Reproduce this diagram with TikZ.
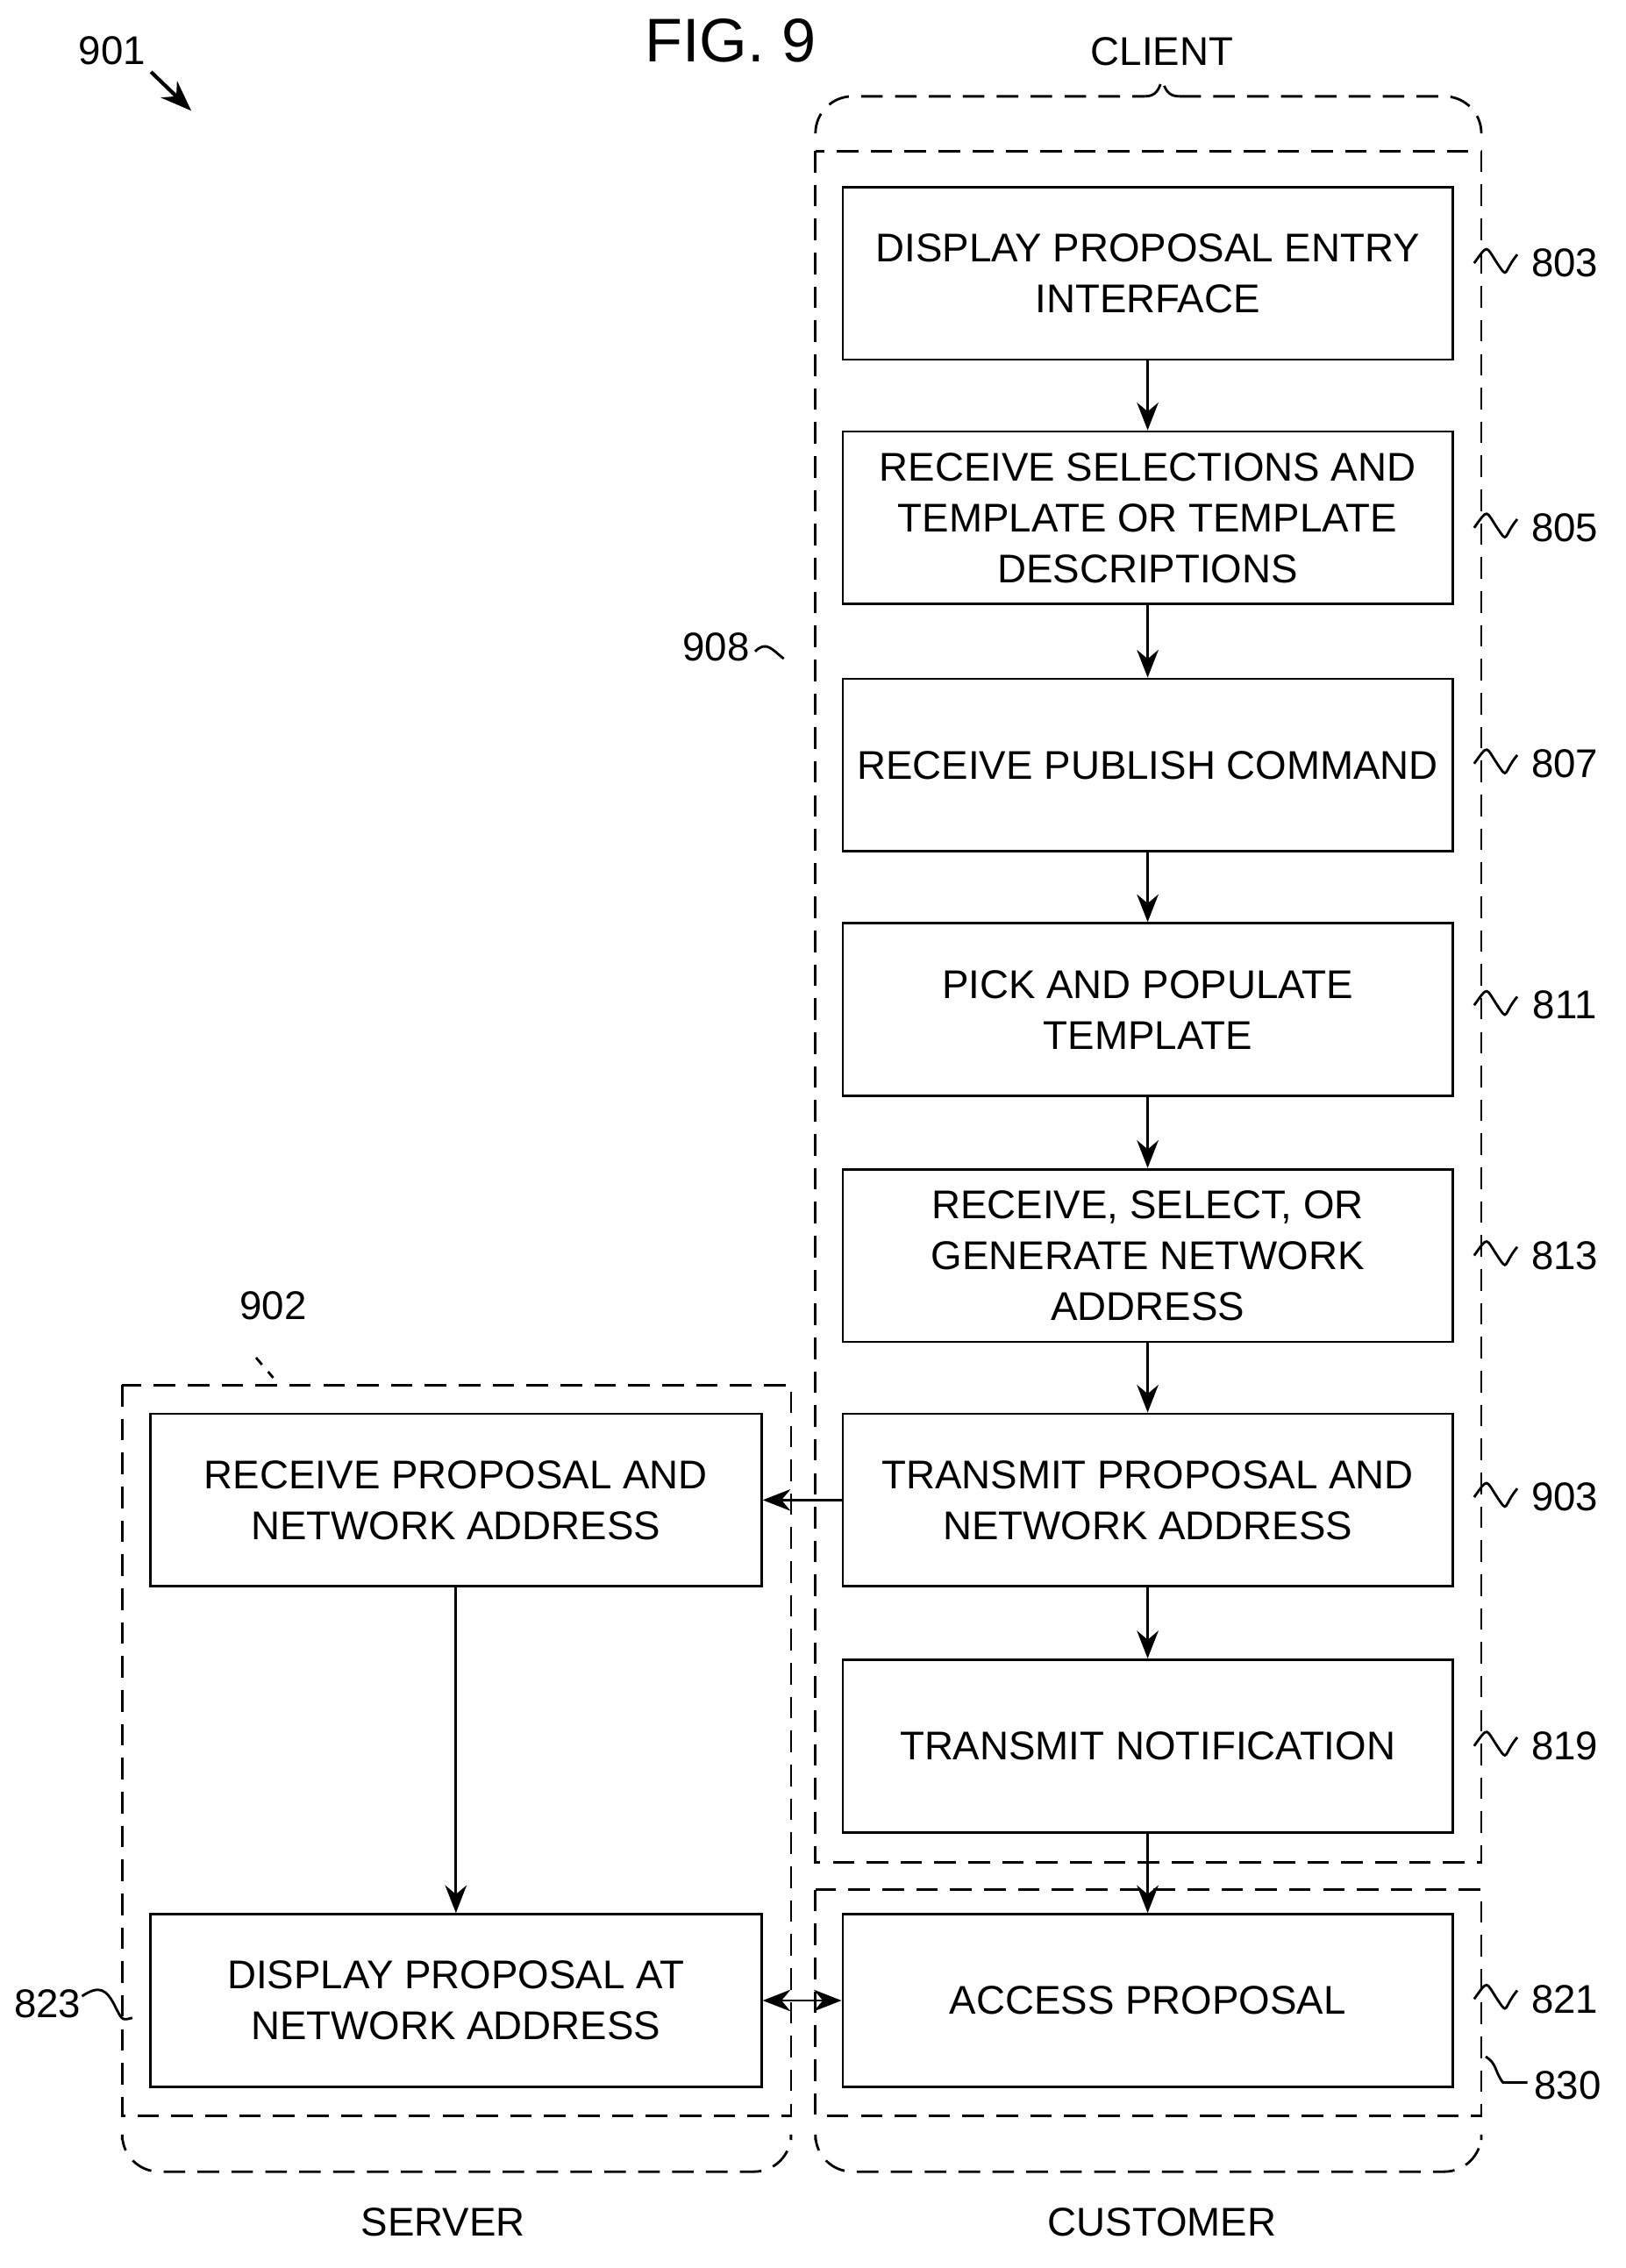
\documentclass[tikz,border=0pt]{standalone}
\usepackage{fontspec}
\setmainfont{Liberation Sans}
\usetikzlibrary{positioning,arrows.meta}
\tikzset{
  flowbox/.style={draw,thick,minimum width=424*0.0164cm,minimum height=120*0.0164cm,align=center,font=\fontsize{13}{16.5}\selectfont,inner sep=0pt},
  group/.style={draw,thick,dash pattern=on 7pt off 4pt},
  flow/.style={thick,-{Stealth[length=9pt,width=7pt]}},
  lbl/.style={font=\fontsize{13}{15}\selectfont}
}
\newcommand{\squig}[1]{\draw[thick] (#1) .. controls +(10,-14) and +(-8,-12) .. +(16,0) .. controls +(8,12) and +(-10,12) .. +(30,-6);}
\begin{document}
\begin{tikzpicture}[x=0.0164cm,y=-0.0164cm]
\useasboundingbox (0,0) rectangle (1130,1577);
% title and reference
\node[font=\fontsize{20}{22}\selectfont] (fig) at (508,28) {FIG. 9};
\node[lbl] (n901) at (78,35) {901};
\coordinate (a901) at (133,77);
\draw[very thick,-{Stealth[length=10pt]}] (105,50) -- (a901);
% client column
\node[flowbox] (s803) at (798,190) {DISPLAY PROPOSAL ENTRY\\INTERFACE};
\node[flowbox] (s805) at (798,360) {RECEIVE SELECTIONS AND\\TEMPLATE OR TEMPLATE\\DESCRIPTIONS};
\node[flowbox] (s807) at (798,532) {RECEIVE PUBLISH COMMAND};
\node[flowbox] (s811) at (798,702) {PICK AND POPULATE\\TEMPLATE};
\node[flowbox] (s813) at (798,873) {RECEIVE, SELECT, OR\\GENERATE NETWORK\\ADDRESS};
\node[flowbox] (s903) at (798,1043) {TRANSMIT PROPOSAL AND\\NETWORK ADDRESS};
\node[flowbox] (s819) at (798,1214) {TRANSMIT NOTIFICATION};
\node[flowbox] (s821) at (798,1391) {ACCESS PROPOSAL};
% server column
\node[flowbox,minimum width=425*0.0164cm] (r902) at (317,1043) {RECEIVE PROPOSAL AND\\NETWORK ADDRESS};
\node[flowbox,minimum width=425*0.0164cm] (d823) at (317,1391) {DISPLAY PROPOSAL AT\\NETWORK ADDRESS};
% connectors
\foreach \a/\b in {s803/s805,s805/s807,s807/s811,s811/s813,s813/s903,s903/s819,s819/s821}
  \draw[flow] (\a) -- (\b);
\draw[flow] (s903) -- (r902);
\draw[flow] (r902) -- (d823);
\draw[thick,{Stealth[length=9pt,width=7pt]}-{Stealth[length=9pt,width=7pt]}] (d823) -- (s821);
% dashed groups
\draw[group] (567,105) rectangle (1030,1295);
\draw[group] (567,1314) rectangle (1030,1471);
\draw[group] (85,963) rectangle (550,1471);
\draw[group,rounded corners=12pt] (567,92) -- (567,67) -- (796,67);
\draw[group,rounded corners=12pt] (820,67) -- (1030,67) -- (1030,92);
\draw[group] (796,67) .. controls (804,67) and (806,62) .. (808,55) .. controls (810,62) and (812,67) .. (820,67);
\draw[group,rounded corners=12pt] (85,1488) -- (85,1510) -- (550,1510) -- (550,1488);
\draw[group,rounded corners=12pt] (567,1488) -- (567,1510) -- (1030,1510) -- (1030,1488);
\draw[thick,dashed] (178,944) -- (190,958);
% group labels
\node[lbl] (tclient) at (808,36) {CLIENT};
\node[lbl] (tserver) at (308,1545) {SERVER};
\node[lbl] (tcust) at (808,1545) {CUSTOMER};
\node[lbl] (t902) at (190,908) {902};
\node[lbl] (t908) at (498,450) {908};
\node[lbl] (t830) at (1090,1450) {830};
\node[lbl] (t823) at (33,1393) {823};
% reference numbers
\foreach \n/\y in {803/183,805/367,807/531,811/699,813/873,903/1041,819/1214,821/1390}{
  \node[lbl] (t\n) at (1088,\y) {\n};
  \squig{1025,\y}
}
\draw[thick] (525,453) .. controls +(8,-8) and +(-8,-6) .. (545,458);
\draw[thick] (1033,1430) .. controls +(8,5) and +(-6,-8) .. (1045,1448) -- (1062,1448);
\draw[thick] (57,1388) .. controls +(12,-8) and +(-6,-12) .. (80,1395) .. controls +(5,10) .. (92,1403);
\end{tikzpicture}
\end{document}
